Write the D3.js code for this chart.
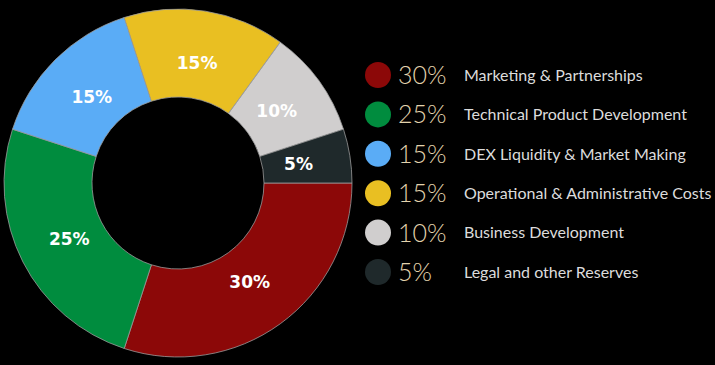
<!DOCTYPE html>
<html>
<head>
<meta charset="utf-8">
<script src="https://cdn.jsdelivr.net/npm/d3@7"></script>
<style>
  body { margin: 0; background: #000; }
</style>
</head>
<body>
<div class="chart"></div>
<script>
// token allocation donut

var labels = ['Marketing & Partnerships', 'Technical Product Development', 'DEX Liquidity & Market Making',
  'Operational & Administrative Costs', 'Business Development', 'Legal and other Reserves'];
var shares = [30, 25, 15, 15, 10, 5];
var colors = ['#8c0808', '#008c3e', '#5aacf6', '#e9bf22', '#d0cece', '#1f292b'];

var width = 715, height = 365;

var svg = d3.select('.chart').append('svg')
  .attr('width', width)
  .attr('height', height)
  .style('background', '#000');

var pie = d3.pie()
  .sort(null)
  .startAngle(Math.PI / 2)
  .endAngle(Math.PI / 2 + 2 * Math.PI);

var arc = d3.arc().innerRadius(86).outerRadius(174);
var labelArc = d3.arc().innerRadius(122).outerRadius(122);

var donut = svg.append('g')
  .attr('transform', 'translate(178,183)');

var slices = donut.selectAll('path')
  .data(pie(shares))
  .enter()
  .append('path')
    .attr('d', arc)
    .attr('fill', function(d, i) { return colors[i]; })
    .attr('stroke', '#9a9a9a')
    .attr('stroke-width', 0.8);

donut.selectAll('text')
  .data(pie(shares))
  .enter()
  .append('text')
    .attr('transform', function(d) { return 'translate(' + labelArc.centroid(d) + ')'; })
    .attr('text-anchor', 'middle')
    .attr('dy', '0.36em')
    .attr('fill', '#fff')
    .style('font-family', '"DejaVu Sans", sans-serif')
    .style('font-weight', 'bold')
    .style('font-size', '17px')
    .text(function(d) { return d.data + '%'; });

// legend
var y = d3.scaleLinear()
  .domain([0, 5])
  .range([75, 272]);

var rows = svg.append('g').selectAll('g')
  .data(shares)
  .enter()
  .append('g')
    .attr('transform', function(d, i) { return 'translate(0,' + y(i) + ')'; });

rows.append('circle')
  .attr('cx', 378)
  .attr('r', 13)
  .attr('fill', function(d, i) { return colors[i]; });

rows.append('text')
  .attr('x', 398)
  .attr('dy', '0.36em')
  .attr('fill', '#e3d3ad')
  .style('font-family', 'Lato, sans-serif')
  .style('font-weight', 300)
  .style('font-size', '25px')
  .text(function(d) { return d + '%'; });

rows.append('text')
  .attr('x', 464)
  .attr('dy', '0.36em')
  .attr('fill', '#dcdcdc')
  .style('font-family', 'Lato, sans-serif')
  .style('font-size', '16px')
  .text(function(d, i) { return labels[i]; });
</script>
</body>
</html>
